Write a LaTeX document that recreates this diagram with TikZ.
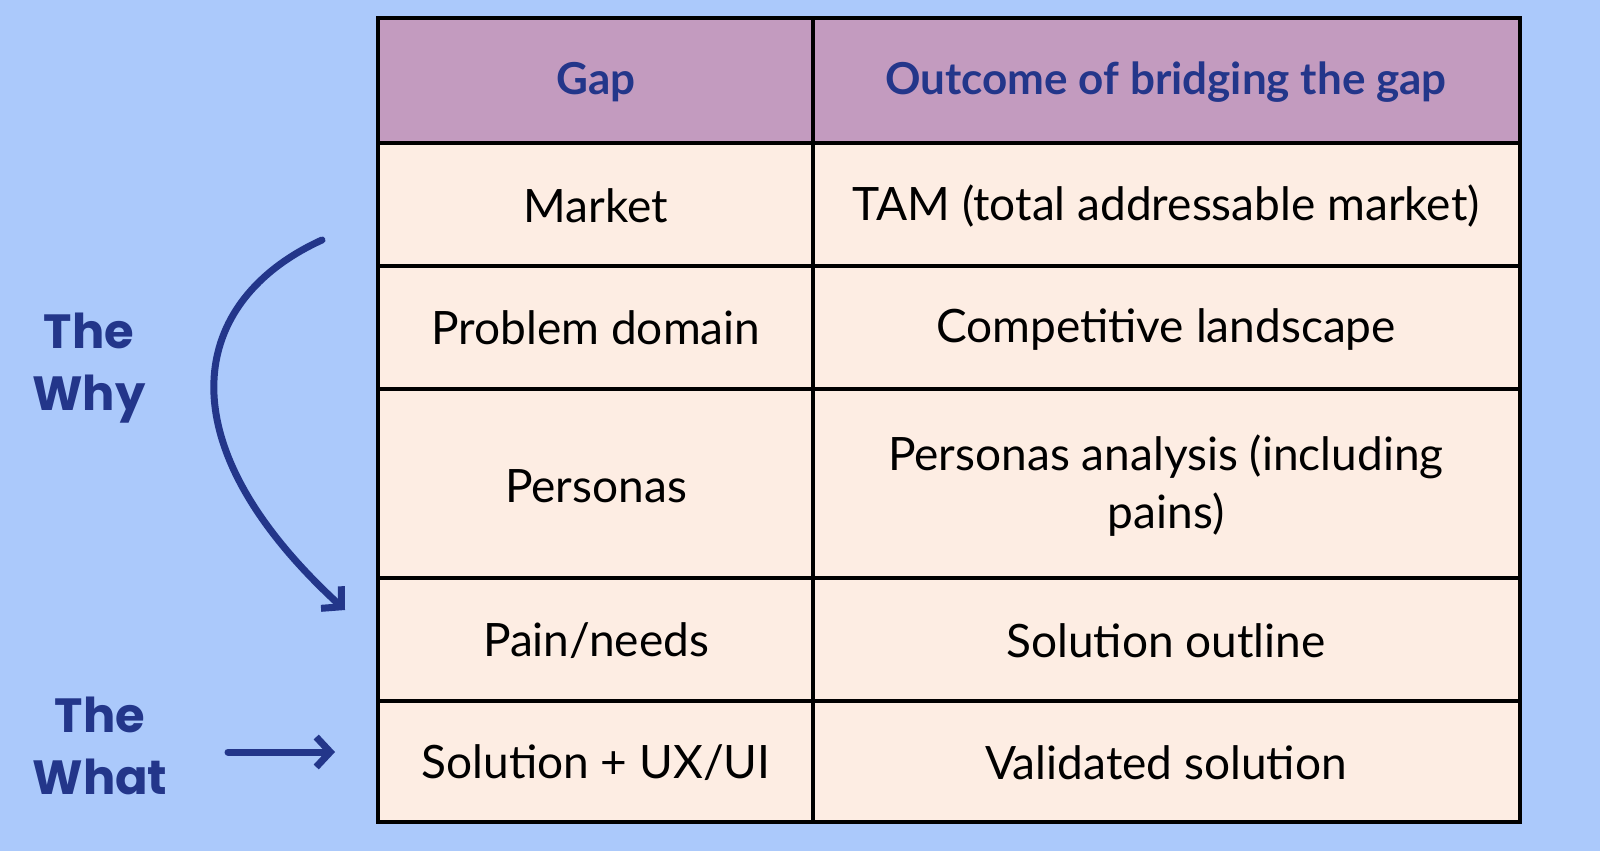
\documentclass[tikz,border=0pt]{standalone}
\usepackage{fontspec}
\setmainfont{Lato}
\newfontfamily\roundfont{Poppins}
\usetikzlibrary{arrows.meta}
\definecolor{bg}{HTML}{ABC9FB}
\definecolor{hdr}{HTML}{C39BBF}
\definecolor{cell}{HTML}{FDEDE3}
\definecolor{navy}{HTML}{23368A}
\begin{document}
\begin{tikzpicture}[x=1pt,y=-1pt,
  txt/.style={font=\fontsize{46}{58}\selectfont,text=black,align=center},
  htxt/.style={font=\fontsize{44}{54}\selectfont\bfseries,text=navy},
  side/.style={font=\fontsize{48}{62}\selectfont\roundfont\bfseries,text=navy,align=center},
  arr/.style={navy,line width=7pt,line cap=round,-{Straight Barb[length=14pt,width=30pt,line width=7pt]}}]
\useasboundingbox (0,0) rectangle (1600,851);
\fill[bg] (0,0) rectangle (1600,851);
\fill[hdr] (378,18) rectangle (1520,143);
\fill[cell] (378,143) rectangle (1520,822);
\foreach \y in {143,266,389,578,701}
  \draw[line width=3.5pt] (378,\y) -- (1520,\y);
\draw[line width=3.5pt] (813,18) -- (813,822);
\draw[line width=3.5pt] (378,18) rectangle (1520,822);
\node[htxt] (h1) at (596,82) {Gap};
\node[htxt] (h2) at (1166,82) {Outcome of bridging the gap};
\node[txt] (a1) at (596,206) {Market};
\node[txt] (b1) at (1166,206) {TAM (total addressable market)};
\node[txt] (a2) at (596,328) {Problem domain};
\node[txt] (b2) at (1166,330) {Competitive landscape};
\node[txt] (a3) at (596,486) {Personas};
\node[txt] (b3) at (1166,486) {Personas analysis (including\\pains)};
\node[txt] (a4) at (596,641) {Pain/needs};
\node[txt] (b4) at (1166,641) {Solution outline};
\node[txt] (a5) at (596,763) {Solution + UX/UI};
\node[txt] (b5) at (1166,763) {Validated solution};
\node[side] (why) at (89,368) {The\\Why};
\node[side] (what) at (100,746) {The\\What};
\coordinate (s1) at (322,240);
\coordinate (e1) at (345,610);
\coordinate (s2) at (228,752);
\coordinate (e2) at (335,752);
\draw[arr] (s1) .. controls (190,300) and (160,440) .. (e1);
\draw[arr] (s2) -- (e2);
\end{tikzpicture}
\end{document}
